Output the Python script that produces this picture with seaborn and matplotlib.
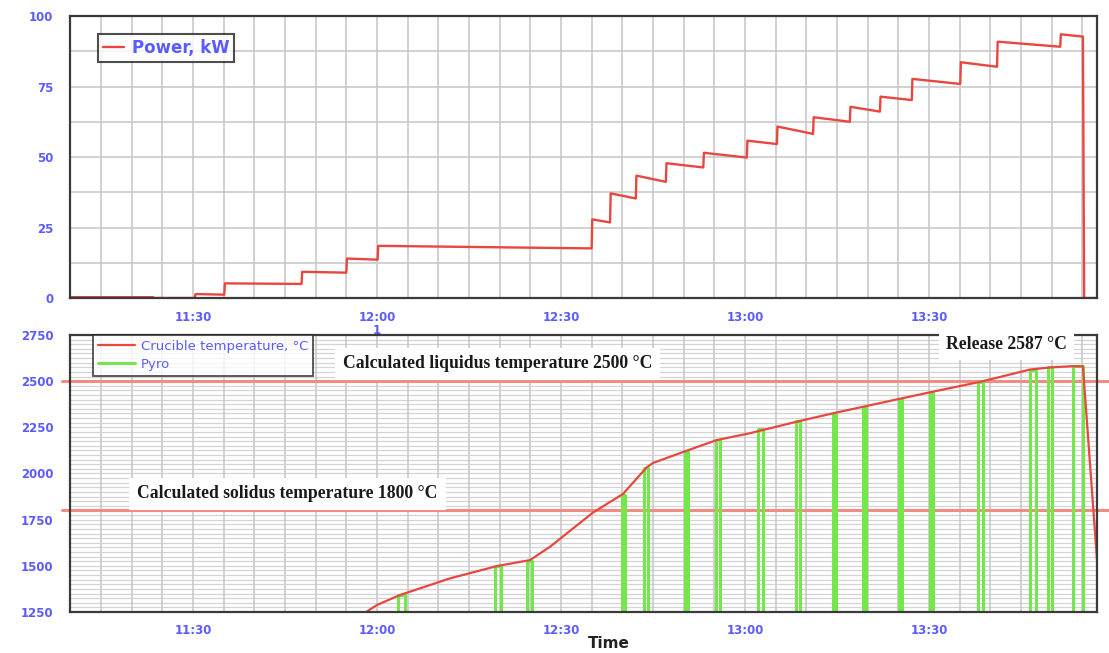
import numpy as np
import pandas as pd
import matplotlib
matplotlib.use("Agg")
import matplotlib.pyplot as plt
from matplotlib.ticker import MultipleLocator, FuncFormatter
import seaborn as sns

# ---------------- data (time in minutes after 12:00) ----------------
power_t = [-50.1, -36.5, -36.4, -29.7, -29.6, -24.9, -24.8, -12.3, -12.2, -5.0, -4.9, 0.1, 0.2,
           35.0, 35.1, 38.0, 38.1, 42.2, 42.3, 47.1, 47.2, 53.2, 53.3, 60.3, 60.4, 65.2, 65.3,
           71.1, 71.2, 77.1, 77.2, 82.0, 82.1, 87.2, 87.3, 95.1, 95.2, 101.1, 101.2, 111.4,
           111.5, 115.1, 115.3, 117.4]
power_kw = [0.3, 0.3, 0.0, 0.0, 1.4, 1.2, 5.2, 5.0, 9.3, 9.0, 14.0, 13.6, 18.5,
            17.6, 27.9, 26.8, 37.1, 35.3, 43.4, 41.2, 47.8, 46.3, 51.5, 49.8, 55.8, 54.6, 60.8,
            58.2, 64.1, 62.5, 67.8, 66.1, 71.4, 70.2, 77.7, 75.9, 83.6, 82.0, 90.9, 89.1,
            93.5, 92.7, 0.0, 0.0]

crucible_t = [-4.4, -2.0, 0.0, 3.75, 11.9, 19.6, 24.95, 28.2, 35.2, 40.1, 44.0, 45.0, 50.55,
              55.4, 60.8, 68.5, 74.35, 79.9, 85.3, 90.5, 98.3, 106.5, 109.7, 113.3, 115.1, 117.4]
crucible_c = [1200, 1245, 1288, 1342, 1432, 1499, 1531, 1603, 1788, 1889, 2034, 2057, 2124,
              2181, 2218, 2281, 2326, 2366, 2405, 2442, 2496, 2563, 2574, 2581, 2580, 1531]

pyro_start = [3.42, 19.24, 24.46, 39.95, 43.53, 50.22, 55.27, 62.12, 68.32, 74.36, 79.24,
              85.11, 90.17, 97.99, 106.47, 109.41, 113.48]
pyro_end = [4.57, 20.22, 25.27, 40.44, 44.18, 50.71, 55.93, 62.94, 68.97, 74.85, 79.73,
            85.60, 90.66, 98.81, 107.45, 110.06, 115.11]
pyro_top = [1340, 1497, 1528, 1885, 2030, 2120, 2182, 2240, 2282, 2327, 2362,
            2403, 2442, 2496, 2563, 2574, 2581]
pyro_base = 1000

liquidus = 2500
solidus = 1800
release = 2587

x_label = "Time"
power_label = "Power, kW"
crucible_label = "Crucible temperature, °C"
pyro_label = "Pyro"

# ---------------- build frames ----------------
T0 = 720.0  # 12:00 in minutes since midnight
df_power = pd.DataFrame({"t": np.array(power_t) + T0, "v": power_kw})
df_cru = pd.DataFrame({"t": np.array(crucible_t) + T0, "v": crucible_c})
pt, pv = [power_t[0] + T0], [pyro_base]
for s, e, top in zip(pyro_start, pyro_end, pyro_top):
    pt += [s + T0, s + T0, e + T0, e + T0]
    pv += [pyro_base, top, top, pyro_base]
pt.append(crucible_t[-1] + T0)
pv.append(pyro_base)
df_pyro = pd.DataFrame({"t": pt, "v": pv})

# ---------------- style ----------------
sns.set_style("white")
plt.rcParams["font.family"] = ["DejaVu Sans"]

RED = "#e8473f"
GREEN = "#74e84a"
HLINE = "#f28b82"
BLUE = "#5b5bff"
SPINE = "#3a3a3a"
GRID = "#c9c9c9"

fig = plt.figure(figsize=(11.09, 6.53), dpi=100)
ax1 = fig.add_axes([0.0631, 0.5436, 0.9261, 0.4319])
ax2 = fig.add_axes([0.0631, 0.0628, 0.9261, 0.4242])

xmin, xmax = T0 - 50.06, T0 + 117.4

def fmt_time(v, pos):
    v = int(round(v))
    return f"{v // 60}:{v % 60:02d}"

sns.lineplot(data=df_power, x="t", y="v", ax=ax1, estimator=None, sort=False,
             color=RED, lw=1.7, label=power_label, zorder=3)
sns.lineplot(data=df_pyro, x="t", y="v", ax=ax2, estimator=None, sort=False,
             color=GREEN, lw=2.2, label=pyro_label, zorder=3)
sns.lineplot(data=df_cru, x="t", y="v", ax=ax2, estimator=None, sort=False,
             color=RED, lw=1.6, label=crucible_label, zorder=4)

for ax in (ax1, ax2):
    ax.set_xlim(xmin, xmax)
    ax.xaxis.set_major_locator(MultipleLocator(30))
    ax.xaxis.set_minor_locator(MultipleLocator(5))
    ax.xaxis.set_major_formatter(FuncFormatter(fmt_time))
    ax.set_xlabel("")
    ax.set_ylabel("")
    for sp in ax.spines.values():
        sp.set_color(SPINE)
        sp.set_linewidth(1.6)
        sp.set_zorder(5)
    ax.tick_params(axis="both", which="both", direction="inout", colors=SPINE,
                   labelcolor=BLUE, labelsize=8.5)
    ax.tick_params(axis="x", which="major", length=12, width=1.6, pad=3)
    ax.tick_params(axis="x", which="minor", length=9, width=1.2)
    ax.tick_params(axis="y", which="major", length=16, width=1.6, pad=4)
    ax.tick_params(axis="y", which="minor", length=9, width=1.2)
    ax.grid(True, axis="x", which="both", color=GRID, lw=1.2, zorder=0)
    ax.set_axisbelow(True)

# top axis
ax1.set_ylim(0, 100)
ax1.yaxis.set_major_locator(MultipleLocator(25))
ax1.yaxis.set_minor_locator(MultipleLocator(12.5))
ax1.grid(True, axis="y", which="both", color=GRID, lw=1.2, zorder=0)
ax1.text(T0, -11.5, "1", ha="center", va="center", fontsize=8.5, fontweight="bold",
         color=BLUE, clip_on=False)

# bottom axis
ax2.set_ylim(1250, 2750)
ax2.yaxis.set_major_locator(MultipleLocator(250))
ax2.yaxis.set_minor_locator(MultipleLocator(250 / 6))
for yv in np.arange(1250, 2751, 25):
    ax2.axhline(yv, color="#d4d4d4", lw=0.9, zorder=0)
ax2.axhline(liquidus, xmin=-0.008, xmax=1.012, clip_on=False, color=HLINE, lw=2.2, zorder=2)
ax2.axhline(solidus, xmin=-0.008, xmax=1.012, clip_on=False, color=HLINE, lw=2.2, zorder=2)
ax2.set_xlabel(x_label, fontsize=11, fontweight="bold", color="#222222")
ax2.xaxis.set_label_coords(0.525, -0.088)

serif = ["Liberation Serif", "DejaVu Serif"]
ax2.text(T0 + 19.6, 2593, f"Calculated liquidus temperature {liquidus} °C", ha="center",
         va="center", fontsize=12.7, fontweight="bold", family=serif, color="#1a1a1a", zorder=6,
         bbox=dict(boxstyle="square,pad=0.45", fc="white", ec="none"))
ax2.text(T0 - 14.6, 1889, f"Calculated solidus temperature {solidus} °C", ha="center",
         va="center", fontsize=12.7, fontweight="bold", family=serif, color="#1a1a1a", zorder=6,
         bbox=dict(boxstyle="square,pad=0.45", fc="white", ec="none"))
ax2.text(T0 + 102.7, 2700, f"Release {release} °C", ha="center",
         va="center", fontsize=12.7, fontweight="bold", family=serif, color="#1a1a1a", zorder=7,
         clip_on=False,
         bbox=dict(boxstyle="square,pad=0.4", fc="white", ec="none"))

for ax in (ax1, ax2):
    plt.setp(ax.get_xticklabels(), fontweight="bold")
    plt.setp(ax.get_yticklabels(), fontweight="bold")

leg1 = ax1.legend(loc="upper left", bbox_to_anchor=(0.027, 0.936), borderaxespad=0,
                  prop={"weight": "bold", "size": 12}, frameon=True, fancybox=False,
                  handlelength=1.3, handletextpad=0.45, borderpad=0.3)
leg1.get_frame().set_edgecolor("#222222")
leg1.get_frame().set_linewidth(1.5)
for t in leg1.get_texts():
    t.set_color(BLUE)
leg1.set_zorder(8)

h, l = ax2.get_legend_handles_labels()
order = [l.index(crucible_label), l.index(pyro_label)]
leg2 = ax2.legend([h[i] for i in order], [l[i] for i in order], loc="upper left",
                  bbox_to_anchor=(0.0224, 1.0), borderaxespad=0, fontsize=9.5,
                  frameon=True, fancybox=False, handlelength=2.8, handletextpad=0.5,
                  labelspacing=0.4, borderpad=0.35)
leg2.get_frame().set_edgecolor("#222222")
leg2.get_frame().set_linewidth(1.3)
for t in leg2.get_texts():
    t.set_color(BLUE)
leg2.set_zorder(8)

fig.savefig("out.png", dpi=100, facecolor="white")
